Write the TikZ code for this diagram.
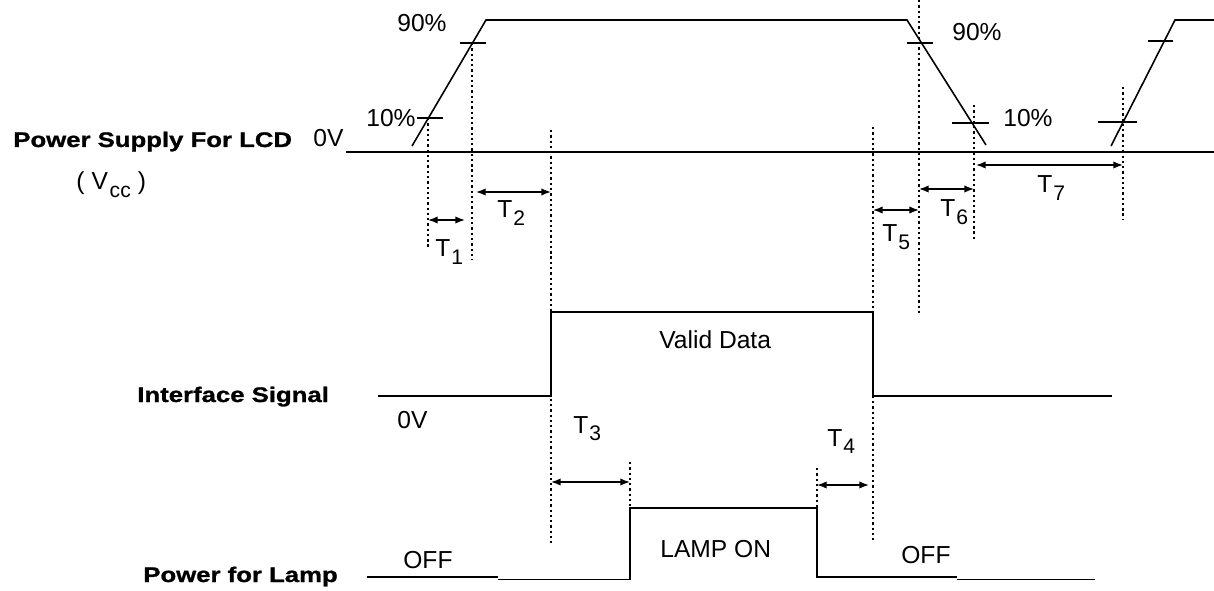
\documentclass[tikz,border=0pt]{standalone}
\usepackage{fontspec}
\setmainfont{Liberation Sans}
\newfontfamily\boldlbl{Liberation Sans}[FakeStretch=1.22,FakeBold=1.2]
\usetikzlibrary{arrows.meta}
\newcommand\Tsub[1]{T\kern0.5pt\raisebox{-4.5pt}{\fontsize{12}{12}\selectfont #1}}
\begin{document}
\begin{tikzpicture}[x=0.02cm,y=-0.02cm,
  sig/.style={line width=0.9pt},
  guide/.style={line width=1pt,dash pattern=on 1.3pt off 1.7pt},
  dimarrow/.style={line width=0.9pt,{Latex[length=5.5pt,width=4.2pt]}-{Latex[length=5.5pt,width=4.2pt]}},
  lbl/.style={inner sep=0pt,anchor=base west,font=\fontsize{14}{14}\selectfont},
  title/.style={inner sep=0pt,anchor=base west,font=\boldlbl\bfseries\fontsize{12}{12}\selectfont}]
\useasboundingbox (0,0) rectangle (1214,591);
% ---------- Power supply for LCD ----------
\node[title] (vcclbl) at (13,147) {Power Supply For LCD};
\node[lbl] (vcczero) at (313,147) {0V};
\node[inner sep=0pt,anchor=base west,font=\fontsize{14}{14}\selectfont] (vccsym) at (76,190) {(\hspace{4pt}V\kern1pt\raisebox{-4pt}{\fontsize{12}{12}\selectfont cc}\hspace{4pt})};
\coordinate (z0) at (346,152);
\coordinate (z1) at (1214,152);
\draw[sig] (z0) -- (z1);
% rise 1
\coordinate (r1a) at (412,146);
\coordinate (r1b) at (486,20);
\coordinate (h1) at (907,20);
\coordinate (f1) at (986,145);
\draw[sig] (r1a) -- (r1b) -- (h1) -- (f1);
% rise 2
\coordinate (r2a) at (1111,146);
\coordinate (r2b) at (1175,20);
\coordinate (h2) at (1214,20);
\draw[sig] (r2a) -- (r2b) -- (h2);
% ticks
\coordinate (t10a) at (417,118); \coordinate (t10b) at (443,118);
\coordinate (t90a) at (460,43);  \coordinate (t90b) at (486,43);
\coordinate (u90a) at (907,43);  \coordinate (u90b) at (933,43);
\coordinate (u10a) at (952,123); \coordinate (u10b) at (989,123);
\coordinate (v10a) at (1098,122); \coordinate (v10b) at (1137,122);
\coordinate (v90a) at (1148,41); \coordinate (v90b) at (1173,41);
\draw[sig] (t10a) -- (t10b);
\draw[sig] (t90a) -- (t90b);
\draw[sig] (u90a) -- (u90b);
\draw[sig] (u10a) -- (u10b);
\draw[sig] (v10a) -- (v10b);
\draw[sig] (v90a) -- (v90b);
\node[lbl] (p90l) at (397,32) {90\%};
\node[lbl] (p10l) at (366,127) {10\%};
\node[lbl] (p90r) at (952,41) {90\%};
\node[lbl] (p10r) at (1003,127) {10\%};
% guides
\coordinate (g1a) at (428,118); \coordinate (g1b) at (428,247);
\coordinate (g2a) at (472,43);  \coordinate (g2b) at (472,260);
\coordinate (g3a) at (551,130); \coordinate (g3b) at (551,543);
\coordinate (g4a) at (873,127); \coordinate (g4b) at (873,540);
\coordinate (g5a) at (919,0);   \coordinate (g5b) at (919,313);
\coordinate (g6a) at (974,105); \coordinate (g6b) at (974,239);
\coordinate (g7a) at (1123,87); \coordinate (g7b) at (1123,220);
\coordinate (g8a) at (630,462); \coordinate (g8b) at (630,508);
\coordinate (g9a) at (817,468); \coordinate (g9b) at (817,508);
\foreach \g in {1,...,9} \draw[guide] (g\g a) -- (g\g b);
% dimension arrows
\coordinate (d1a) at (428,220); \coordinate (d1b) at (465,220);
\coordinate (d2a) at (476,192); \coordinate (d2b) at (551,192);
\coordinate (d5a) at (873,210); \coordinate (d5b) at (919,210);
\coordinate (d6a) at (919,189); \coordinate (d6b) at (974,189);
\coordinate (d7a) at (976,165); \coordinate (d7b) at (1123,165);
\coordinate (d3a) at (551,482); \coordinate (d3b) at (630,482);
\coordinate (d4a) at (817,485); \coordinate (d4b) at (869,485);
\foreach \d in {1,2,3,4,5,6,7} \draw[dimarrow] (d\d a) -- (d\d b);
\node[lbl] (T1) at (435,257) {\Tsub{1}};
\node[lbl] (T2) at (497,218) {\Tsub{2}};
\node[lbl] (T5) at (882,242) {\Tsub{5}};
\node[lbl] (T6) at (940,217) {\Tsub{6}};
\node[lbl] (T7) at (1037,193) {\Tsub{7}};
\node[lbl] (T3) at (573,433) {\Tsub{3}};
\node[lbl] (T4) at (827,446) {\Tsub{4}};
% ---------- Interface signal ----------
\node[title] (iflbl) at (137,402) {Interface Signal};
\coordinate (i0) at (378,396);
\coordinate (i1) at (551,396);
\coordinate (i2) at (551,312);
\coordinate (i3) at (873,312);
\coordinate (i4) at (873,396);
\coordinate (i5) at (1112,396);
\draw[sig] (i0) -- (i1) -- (i2) -- (i3) -- (i4) -- (i5);
\node[lbl] (valid) at (659,348) {Valid Data};
\node[lbl] (ifzero) at (397,428) {0V};
% ---------- Power for lamp ----------
\node[title] (lamplbl) at (143,582) {Power for Lamp};
\coordinate (l0) at (367,577);
\coordinate (l1) at (498,577);
\coordinate (l2) at (498,579.5);
\coordinate (l3) at (630,579.5);
\coordinate (l4) at (630,508);
\coordinate (l5) at (817,508);
\coordinate (l6) at (817,577);
\coordinate (l7) at (957,577);
\coordinate (l8) at (957,579.5);
\coordinate (l9) at (1095,579.5);
\draw[sig] (l0) -- (l1);
\draw[sig] (l2) -- (l3) -- (l4) -- (l5) -- (l6) -- (l7);
\draw[sig] (l8) -- (l9);
\node[lbl] (offl) at (403,568) {OFF};
\node[lbl] (lampon) at (660,557) {LAMP ON};
\node[lbl] (offr) at (901,563) {OFF};
\end{tikzpicture}
\end{document}
